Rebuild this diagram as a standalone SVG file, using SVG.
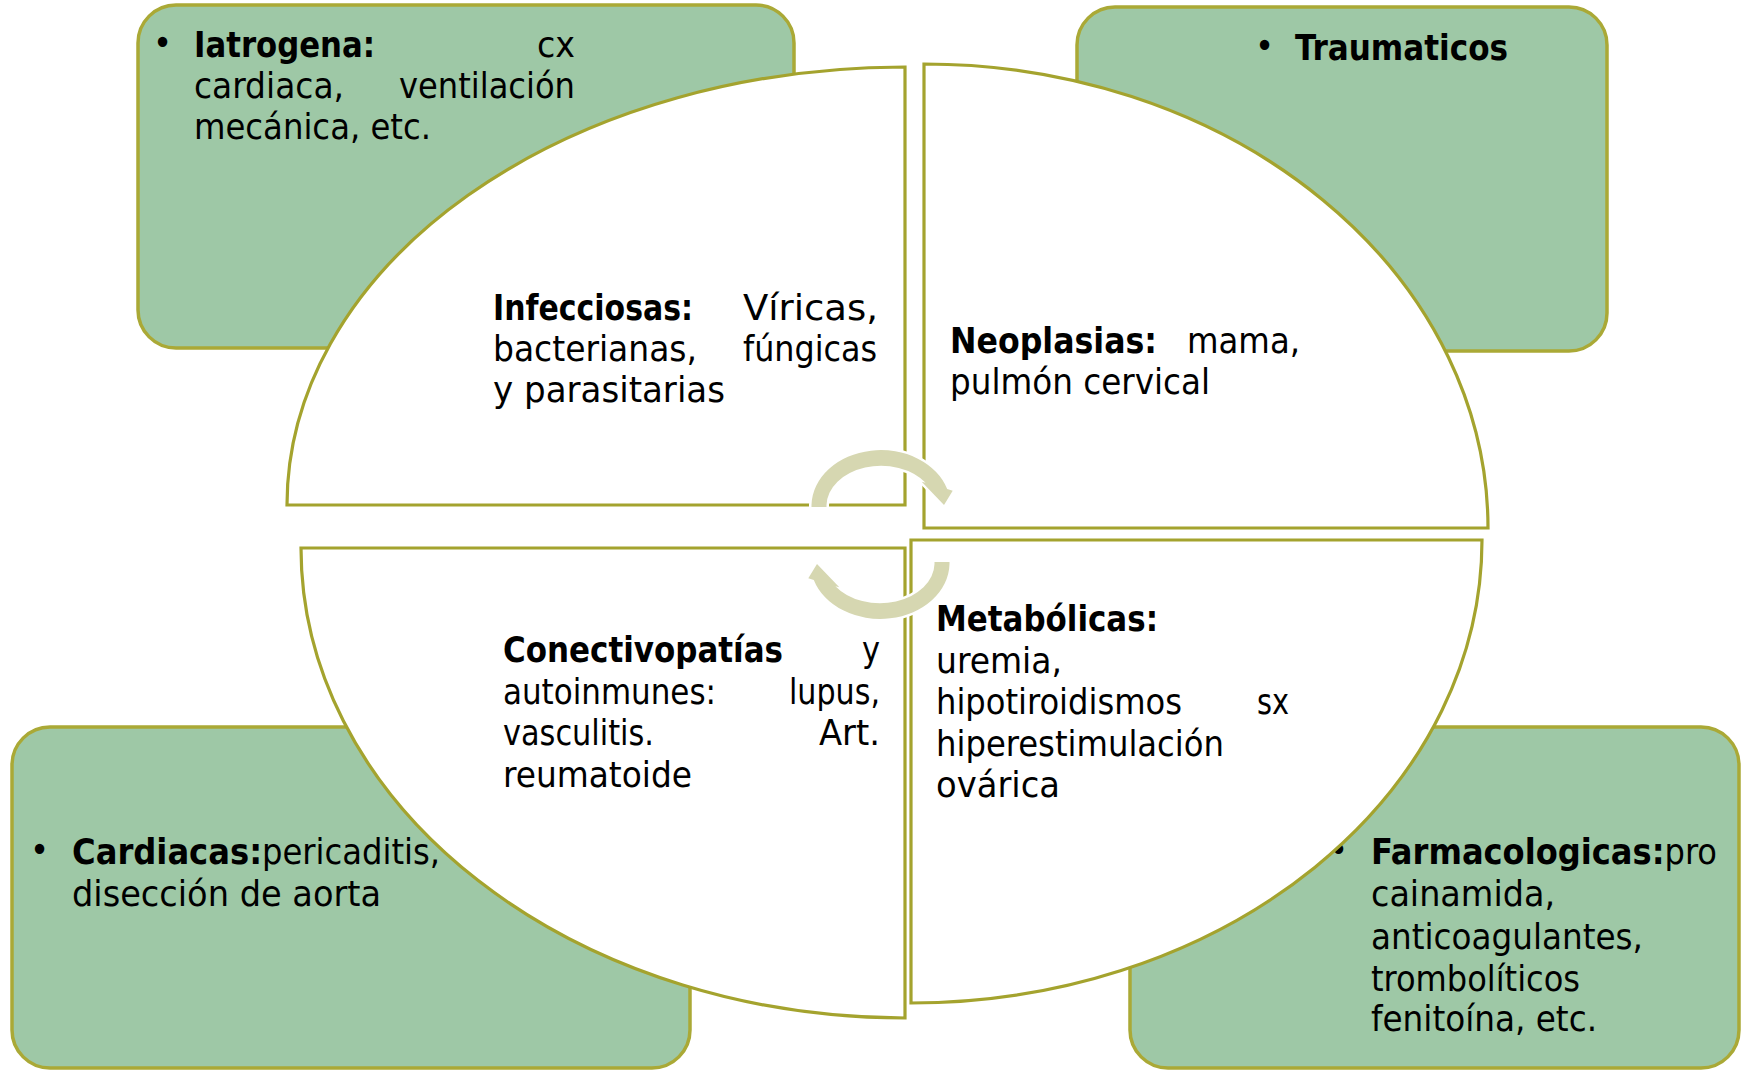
<svg xmlns="http://www.w3.org/2000/svg" width="1760" height="1071" viewBox="0 0 1760 1071">
<style>
.box{fill:#9ec8a6;stroke:#aaa936;stroke-width:3.5}
.q{fill:#ffffff;stroke:#a4a32e;stroke-width:3.2}
.arr{fill:#d6d7b1;stroke:#ffffff;stroke-width:5;paint-order:stroke;stroke-linejoin:miter}
text{font-family:'DejaVu Sans Condensed','DejaVu Sans',sans-serif;font-stretch:condensed;font-size:36px;fill:#000}
.b{font-weight:bold}
</style>
<rect width="1760" height="1071" fill="#ffffff"/>
<g id="box-iatrogena">
<rect class="box" x="138" y="5" width="656" height="343" rx="38" ry="38"/>
<text x="153" y="55">•</text>
<text class="b" x="194" y="57" textLength="181" lengthAdjust="spacingAndGlyphs">Iatrogena:</text>
<text x="537" y="57" textLength="38" lengthAdjust="spacingAndGlyphs">cx</text>
<text x="194" y="98" textLength="150" lengthAdjust="spacingAndGlyphs">cardiaca,</text>
<text x="399" y="98" textLength="176" lengthAdjust="spacingAndGlyphs">ventilación</text>
<text x="194" y="139" textLength="237" lengthAdjust="spacingAndGlyphs">mecánica, etc.</text>
</g>
<g id="box-traumaticos">
<rect class="box" x="1077" y="7" width="530" height="344" rx="38" ry="38"/>
<text x="1255" y="58">•</text>
<text class="b" x="1295" y="60" textLength="213" lengthAdjust="spacingAndGlyphs">Traumaticos</text>
</g>
<g id="box-cardiacas">
<rect class="box" x="12" y="727" width="678" height="341" rx="38" ry="38"/>
<text x="30" y="862">•</text>
<text x="72" y="864" textLength="368" lengthAdjust="spacingAndGlyphs"><tspan class="b">Cardiacas:</tspan>pericaditis,</text>
<text x="72" y="906" textLength="309" lengthAdjust="spacingAndGlyphs">disección de aorta</text>
</g>
<g id="box-farmacologicas">
<rect class="box" x="1130" y="727" width="609" height="341" rx="38" ry="38"/>
<text x="1329" y="862">•</text>
<text x="1371" y="864" textLength="346" lengthAdjust="spacingAndGlyphs"><tspan class="b">Farmacologicas:</tspan>pro</text>
<text x="1371" y="906" textLength="184" lengthAdjust="spacingAndGlyphs">cainamida,</text>
<text x="1371" y="949" textLength="272" lengthAdjust="spacingAndGlyphs">anticoagulantes,</text>
<text x="1371" y="991" textLength="209" lengthAdjust="spacingAndGlyphs">trombolíticos</text>
<text x="1371" y="1031" textLength="226" lengthAdjust="spacingAndGlyphs">fenitoína, etc.</text>
</g>
<g id="q-infecciosas">
<path class="q" d="M905 67 L905 505 L287 505 A618 438 0 0 1 905 67 Z"/>
<text class="b" x="493" y="320" textLength="200" lengthAdjust="spacingAndGlyphs">Infecciosas:</text>
<text x="743" y="320" textLength="135" lengthAdjust="spacingAndGlyphs">Víricas,</text>
<text x="493" y="361" textLength="204" lengthAdjust="spacingAndGlyphs">bacterianas,</text>
<text x="743" y="361" textLength="134" lengthAdjust="spacingAndGlyphs">fúngicas</text>
<text x="493" y="402" textLength="232" lengthAdjust="spacingAndGlyphs">y parasitarias</text>
</g>
<g id="q-neoplasias">
<path class="q" d="M924 64 L924 528 L1488 528 A564 464 0 0 0 924 64 Z"/>
<text class="b" x="950" y="353" textLength="207" lengthAdjust="spacingAndGlyphs">Neoplasias:</text>
<text x="1187" y="353" textLength="113" lengthAdjust="spacingAndGlyphs">mama,</text>
<text x="950" y="394" textLength="260" lengthAdjust="spacingAndGlyphs">pulmón cervical</text>
</g>
<g id="q-conectivopatias">
<path class="q" d="M301 548 L905 548 L905 1018 A604 470 0 0 1 301 548 Z"/>
<text class="b" x="503" y="662" textLength="280" lengthAdjust="spacingAndGlyphs">Conectivopatías</text>
<text x="862" y="662" textLength="18" lengthAdjust="spacingAndGlyphs">y</text>
<text x="503" y="704" textLength="213" lengthAdjust="spacingAndGlyphs">autoinmunes:</text>
<text x="789" y="704" textLength="91" lengthAdjust="spacingAndGlyphs">lupus,</text>
<text x="503" y="745" textLength="151" lengthAdjust="spacingAndGlyphs">vasculitis.</text>
<text x="819" y="745" textLength="61" lengthAdjust="spacingAndGlyphs">Art.</text>
<text x="503" y="787" textLength="189" lengthAdjust="spacingAndGlyphs">reumatoide</text>
</g>
<g id="q-metabolicas">
<path class="q" d="M911 540 L1482 540 A571 463 0 0 1 911 1003 Z"/>
<text class="b" x="936" y="631" textLength="222" lengthAdjust="spacingAndGlyphs">Metabólicas:</text>
<text x="936" y="673" textLength="126" lengthAdjust="spacingAndGlyphs">uremia,</text>
<text x="936" y="714" textLength="246" lengthAdjust="spacingAndGlyphs">hipotiroidismos</text>
<text x="1257" y="714" textLength="32" lengthAdjust="spacingAndGlyphs">sx</text>
<text x="936" y="756" textLength="288" lengthAdjust="spacingAndGlyphs">hiperestimulación</text>
<text x="936" y="797" textLength="124" lengthAdjust="spacingAndGlyphs">ovárica</text>
</g>
<g id="connectors">
<path id="arrow-top" class="arr" d="M811.5 507 L811.5 505 A69.5 56 0 0 1 947.2 489.1 L952.7 490.7 L944 505 L921.7 481.7 L925.6 482.8 A54.5 40 0 0 0 826.5 505 L826.5 507 Z"/>
<path id="arrow-bottom" class="arr" transform="rotate(180 880.5 534.5)" d="M811.5 507 L811.5 505 A69.5 56 0 0 1 947.2 489.1 L952.7 490.7 L944 505 L921.7 481.7 L925.6 482.8 A54.5 40 0 0 0 826.5 505 L826.5 507 Z"/>
</g>
</svg>
